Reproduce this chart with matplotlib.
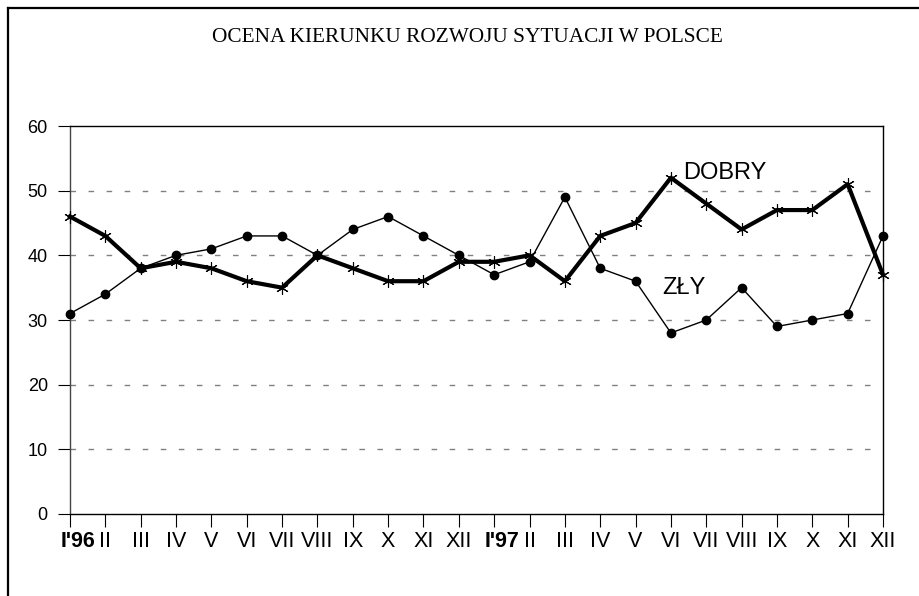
import numpy as np
import matplotlib
matplotlib.use("Agg")
import matplotlib.pyplot as plt
import matplotlib.transforms as mtransforms
from matplotlib.lines import Line2D

months = ["I'96", "II", "III", "IV", "V", "VI", "VII", "VIII", "IX", "X", "XI", "XII",
          "I'97", "II", "III", "IV", "V", "VI", "VII", "VIII", "IX", "X", "XI", "XII"]
dobry = [46, 43, 38, 39, 38, 36, 35, 40, 38, 36, 36, 39,
         39, 40, 36, 43, 45, 52, 48, 44, 47, 47, 51, 37]
zly = [31, 34, 38, 40, 41, 43, 43, 40, 44, 46, 43, 40,
       37, 39, 49, 38, 36, 28, 30, 35, 29, 30, 31, 43]

fig = plt.figure(figsize=(9.19, 5.96), dpi=100)
ax = fig.add_axes([70/919, 1 - 514/596, 813/919, 388/596])

x = np.arange(len(months))
ax.plot(x, zly, color="black", lw=1.0, marker="o", ms=6, clip_on=False, zorder=3)
ax.plot(x, dobry, color="black", lw=3.0, marker=(6, 2, 0), ms=9, mew=0.8,
        clip_on=False, zorder=4)

ax.set_xlim(0, len(months) - 1)
ax.set_ylim(0, 60)
ax.set_yticks(range(0, 61, 10))
ax.set_xticks(x)
ax.set_xticklabels(months)

ax.tick_params(axis="x", direction="out", length=9, width=0.8, pad=3.5, labelsize=15.5)
ax.tick_params(axis="y", direction="out", length=9, width=0.8, pad=7, labelsize=13)

# etykiety lat pogrubione i lekko przesuniete w prawo
shift = mtransforms.ScaledTranslation(8/100, 0, fig.dpi_scale_trans)
for i, lbl in enumerate(ax.get_xticklabels()):
    lbl.set_fontfamily(["Liberation Sans Narrow", "Liberation Sans"])
    if months[i].startswith("I'"):
        lbl.set_fontweight("bold")
        lbl.set_transform(lbl.get_transform() + shift)
for lbl in ax.get_yticklabels():
    lbl.set_fontfamily("Liberation Sans")

for y in range(10, 60, 10):
    ax.axhline(y, color="gray", lw=1.0, ls=(0, (4, 9)), zorder=1)

for s in ax.spines.values():
    s.set_color("black")
    s.set_linewidth(1.0)
ax.spines["left"].set_color("#444444")

ax.text(17.35, 52.7, "DOBRY", fontsize=17, family="Liberation Sans", va="center")
ax.text(16.75, 34.9, "ZŁY", fontsize=17, family="Liberation Sans", va="center")

fig.text(0.509, 1 - 38/596, "OCENA KIERUNKU ROZWOJU SYTUACJI W POLSCE",
         ha="center", va="center", fontsize=15.3, family="Liberation Serif")

# ramka wokol wykresu (tylko lewa i gorna krawedz widoczna)
fig.add_artist(Line2D([8/919, 8/919], [0, 1 - 8/596], color="black", lw=1.6,
                      transform=fig.transFigure))
fig.add_artist(Line2D([8/919, 1], [1 - 8/596, 1 - 8/596], color="black", lw=1.6,
                      transform=fig.transFigure))

fig.savefig("out.png", dpi=100)
